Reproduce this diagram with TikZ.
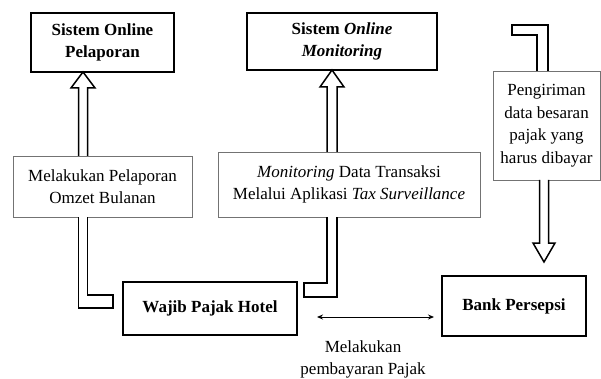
\documentclass[tikz,border=0pt]{standalone}
\usepackage{fontspec}
\setmainfont{Liberation Serif}
\usetikzlibrary{arrows.meta}
\begin{document}
\begin{tikzpicture}[x=1pt,y=-1pt,
  mainbox/.style={draw=black,line width=1.6pt,fill=white,align=center,inner sep=0pt,
    font=\fontsize{17}{22}\selectfont\bfseries},
  labelbox/.style={draw=black!55,line width=0.9pt,fill=white,align=center,inner sep=0pt,
    font=\fontsize{17}{22.5}\selectfont},
  hollow/.style={draw=black,line width=1.5pt,fill=white,line join=miter},
  plain/.style={align=center,font=\fontsize{17}{22}\selectfont}]
\useasboundingbox (0,0) rectangle (601,379);
% boxes
\node[mainbox,minimum width=143pt,minimum height=59pt] (spo) at (102.5,42.5) {Sistem Online\\Pelaporan};
\node[mainbox,minimum width=190pt,minimum height=57pt] (som) at (342,41.5) {Sistem \textit{Online}\\\textit{Monitoring}};
\node[labelbox,minimum width=179pt,minimum height=61pt] (lap) at (102.5,186.5) {Melakukan Pelaporan\\Omzet Bulanan};
\node[labelbox,minimum width=262pt,minimum height=65pt] (mon) at (349,184.5) {\textit{Monitoring} Data Transaksi\\Melalui Aplikasi \textit{Tax Surveillance}};
\node[labelbox,minimum width=107pt,minimum height=109pt] (peng) at (546.5,125.5) {Pengiriman\\data besaran\\pajak yang\\harus dibayar};
\node[mainbox,minimum width=174pt,minimum height=53pt] (wph) at (210,308.5) {Wajib Pajak Hotel};
\node[mainbox,minimum width=144pt,minimum height=60pt] (bank) at (514,306) {Bank Persepsi};
\node[plain] (bayar) at (363,359.5) {Melakukan\\pembayaran Pajak};
% hollow arrow 1 (Wajib -> Sistem Online Pelaporan)
\draw[hollow] (78.5,156) -- (78.5,88) -- (71,88) -- (83,72) -- (95,88) -- (87.5,88) -- (87.5,156);
\draw[hollow] (78.5,217) -- (78.5,308) -- (113,308) -- (113,295) -- (87.5,295) -- (87.5,217);
% hollow arrow 2 (Wajib -> Sistem Online Monitoring)
\draw[hollow] (327,152) -- (327,87) -- (320,87) -- (332,70) -- (344,87) -- (337,87) -- (337,152);
\draw[hollow] (327,217) -- (327,283) -- (304,283) -- (304,297) -- (337,297) -- (337,217);
% hollow arrow 3 (Sistem Online Monitoring -> Bank)
\draw[hollow] (537,71) -- (537,35) -- (512,35) -- (512,25) -- (548,25) -- (548,71);
\draw[hollow] (539.5,180) -- (539.5,243) -- (533,243) -- (544,262) -- (555,243) -- (548.5,243) -- (548.5,180);
% payment arrow
\coordinate (pl) at (317,317);
\coordinate (pr) at (434,317);
\draw[line width=0.9pt,{Stealth[length=6pt,width=5pt]}-{Stealth[length=6pt,width=5pt]}] (pl) -- (pr);
\end{tikzpicture}
\end{document}
